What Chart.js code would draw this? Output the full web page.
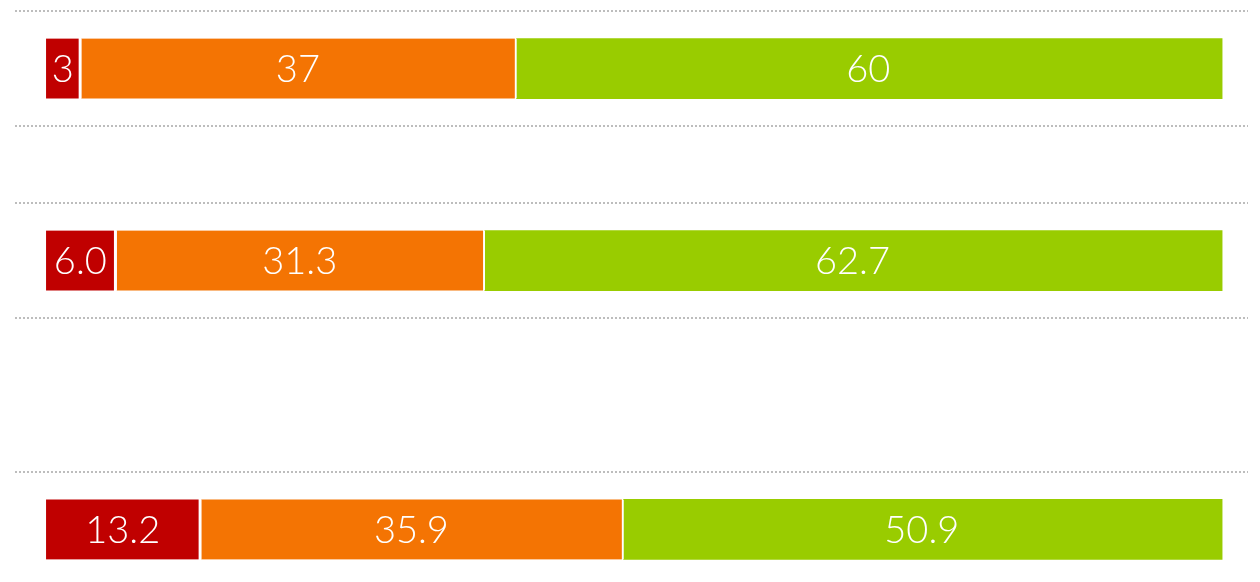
<!DOCTYPE html>
<html>
<head>
<meta charset="utf-8">
<script src="https://cdn.jsdelivr.net/npm/chart.js@4"></script>
<style>
  html, body { margin: 0; padding: 0; background: #fff; overflow: hidden; }
  #wrap { width: 1260px; height: 590px; }
</style>
</head>
<body>
<div id="wrap"><canvas id="shareChart"></canvas></div>
<script>
// three stacked rows sitting in a 15-slot category axis (empty slots are spacing)
const slotCount = 15;
const rowSlots = [1, 6, 13];
const lowShare = [3, 6.0, 13.2];
const midShare = [37, 31.3, 35.9];
const highShare = [60, 62.7, 50.9];
const rowDecimals = [0, 1, 1];
const dottedLines = [0, 3, 5, 8, 12];

const slotLabels = Array(slotCount).fill("");
function spread(values) {
  const out = Array(slotCount).fill(null);
  rowSlots.forEach((s, i) => { out[s] = values[i]; });
  return out;
}

// white value labels centred in every segment
const segmentLabels = {
  id: "segmentLabels",
  afterDatasetsDraw(chart) {
    const { ctx } = chart;
    ctx.save();
    ctx.fillStyle = "#fff";
    ctx.font = "300 38px Lato, 'Open Sans', sans-serif";
    ctx.textAlign = "center";
    ctx.textBaseline = "middle";
    chart.data.datasets.forEach((ds, di) => {
      chart.getDatasetMeta(di).data.forEach((el, i) => {
        const v = ds.data[i];
        if (v == null) return;
        const row = rowSlots.indexOf(i);
        const p = el.getCenterPoint();
        ctx.fillText(v.toFixed(rowDecimals[row]), p.x - 1, p.y + 1);
      });
    });
    ctx.restore();
  }
};

const seg = (data, color, gap) => ({
  data: spread(data),
  backgroundColor: color,
  borderColor: "#fff",
  borderWidth: { left: 0, right: gap, top: 0, bottom: 0 },
  borderSkipped: false,
  barThickness: 60
});

new Chart(document.getElementById("shareChart"), {
  type: "bar",
  data: {
    labels: slotLabels,
    datasets: [
      seg(lowShare, "#c00000", 3),
      seg(midShare, "#f47403", 2),
      seg(highShare, "#99cc00", 0)
    ]
  },
  options: {
    indexAxis: "y",
    responsive: true, maintainAspectRatio: false,
    animation: false,
    layout: { padding: { left: 15, right: 12, top: 11, bottom: 3 } },
    plugins: { legend: { display: false }, tooltip: { enabled: false } },
    scales: {
      x: {
        stacked: true, min: -2.64, max: 102.2,
        display: false
      },
      y: {
        stacked: true,
        ticks: { display: false },
        border: { display: false, dash: [2, 2] },
        grid: {
          offset: true,
          drawTicks: false,
          lineWidth: 2,
          color: c => dottedLines.includes(c.index) ? "#bdbdbd" : "rgba(0,0,0,0)"
        }
      }
    }
  },
  plugins: [segmentLabels]
});
</script>
</body>
</html>
